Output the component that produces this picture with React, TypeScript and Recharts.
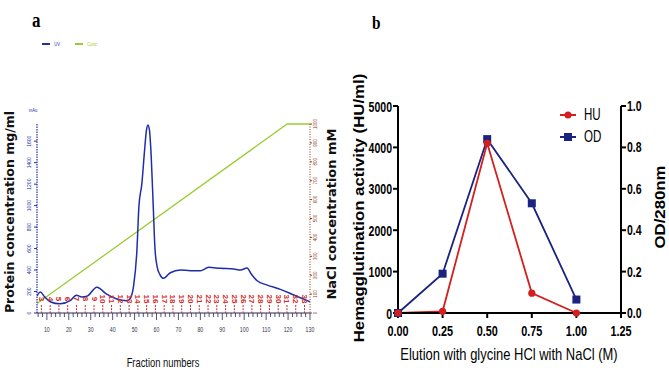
import React from "react";
import { ComposedChart, Line, Scatter, XAxis, YAxis, Legend, Label } from "recharts";

// ---------- Panel a: ion-exchange elution profile ----------
const uvFraction = [
  5.5, 7, 9, 11.5, 16, 20.6, 23.5, 26, 28.2, 32.8, 37.3, 41.9, 46.5, 48, 49.5,
  51, 52, 53.3, 54.5, 55.4, 56.1, 56.8, 57.6, 58.5, 59.3, 60.3, 61.5, 63.2,
  66.3, 70.9, 75.4, 80, 83.8, 89.1, 95.2, 98.3, 101.3, 103.2, 105.9, 110.5,
  116.5, 122.6, 130,
];
const uvMau = [
  160, 195, 150, 105, 85, 115, 165, 150, 155, 240, 175, 130, 115, 135, 245,
  560, 1000, 1200, 1500, 1700, 1750, 1700, 1450, 1000, 600, 430, 360, 323,
  375, 400, 394, 394, 425, 416, 410, 400, 420, 363, 300, 260,
  220, 168, 105,
];
const saltFraction = [5.5, 119.6, 130];
const saltMm = [50, 1000, 1000];

const fractionTubes = [
  3, 4, 5, 6, 7, 8, 9, 10, 11, 12, 13, 14, 15, 16, 17, 18, 19, 20, 21, 22, 23,
  24, 25, 26, 27, 28, 29, 30, 31, 32, 33,
];
const tubeVolume = [
  7.5, 11.5, 15.5, 19.5, 23.5, 27.5, 31.5, 35.5, 39.5, 43.5, 47.5, 51.5, 55.5,
  59.5, 63.5, 67.5, 71.5, 75.5, 79.5, 83.5, 87.5, 91.5, 95.5, 99.5, 103.5,
  107.5, 111.5, 115.5, 119.5, 123.5, 127.5,
];

const volumeTicks = Array.from({ length: 63 }, (_, i) => 6 + i * 2);
const uvTicks = [0, 200, 400, 600, 800, 1000, 1200, 1400, 1600];
const saltTicks = [0, 100, 200, 300, 400, 500, 600, 700, 800, 900, 1000];

// ---------- Panel b: affinity elution ----------
const elutionM = [0, 0.25, 0.5, 0.75, 1.0];
const huActivity = [0, 40, 4100, 480, 0];
const od280 = [0, 0.19, 0.84, 0.53, 0.065];
const elutionTicks = [0, 0.25, 0.5, 0.75, 1.0, 1.25];
const huTicks = [0, 1000, 2000, 3000, 4000, 5000];
const odTicks = [0, 0.2, 0.4, 0.6, 0.8, 1.0];

const uvRows = uvFraction.map((v, i) => ({ vol: v, uv: uvMau[i] }));
const saltRows = saltFraction.map((v, i) => ({ vol: v, salt: saltMm[i] }));
const tubeRows = fractionTubes.map((t, i) => ({ vol: tubeVolume[i], base: 0, tube: t }));
const elutionRows = elutionM.map((m, i) => ({ m, hu: huActivity[i], od: od280[i] }));

const SANS = "'Liberation Sans', Arial, sans-serif";
const WIDE = "'DejaVu Sans', Verdana, sans-serif";
const SERIF = "'Liberation Serif', 'Times New Roman', serif";

const UV_BLUE = "#1f2ea6";
const CONC_GREEN = "#9acd32";
const TUBE_RED = "#cf2b2b";
const AXIS_BROWN = "#8a3b1c";
const HU_RED = "#d41f1f";
const OD_NAVY = "#1a237e";

// narrow horizontal text
function Narrow(props: any) {
  const { x, y, children, size, weight = 400, fill = "#000", anchor = "middle", sx = 0.7, family = SANS } = props;
  return (
    <text
      transform={`translate(${x},${y}) scale(${sx},1)`}
      textAnchor={anchor}
      fontSize={size}
      fontWeight={weight}
      fill={fill}
      fontFamily={family}
    >
      {children}
    </text>
  );
}

// vertical (bottom-to-top) text, glyphs optionally flattened
function Vertical(props: any) {
  const { x, y, children, size, weight = 700, fill = "#000", sy = 1, family = SANS } = props;
  return (
    <text
      transform={`translate(${x},${y}) rotate(-90) scale(1,${sy})`}
      textAnchor="middle"
      dominantBaseline="central"
      fontSize={size}
      fontWeight={weight}
      fill={fill}
      fontFamily={family}
    >
      {children}
    </text>
  );
}

function VolumeTick(p: any) {
  const { x, y, payload } = p;
  const major = payload.value % 10 === 0;
  return (
    <g>
      <line x1={x} x2={x} y1={y} y2={y + (major ? 7 : 4)} stroke="#2a2a55" strokeWidth={0.8} />
      {major ? (
        <Narrow x={x} y={y + 19} size={7} fill="#33334a" sx={0.75}>
          {payload.value}
        </Narrow>
      ) : null}
    </g>
  );
}

function TubeMarker(p: any) {
  const { cx, cy, payload } = p;
  if (cx == null || cy == null) return null;
  return (
    <g>
      <line x1={cx} x2={cx} y1={cy - 8} y2={cy} stroke={TUBE_RED} strokeWidth={1} strokeDasharray="2 1.2" />
      <text
        transform={`translate(${cx},${cy - 14}) rotate(90)`}
        textAnchor="middle"
        dominantBaseline="central"
        fontSize={8}
        fontWeight={700}
        fontFamily={SANS}
        fill={TUBE_RED}
      >
        {payload.tube}
      </text>
    </g>
  );
}

function LegendA() {
  return (
    <div style={{ display: "flex", alignItems: "center", fontFamily: SANS, fontSize: 6 }}>
      <span style={{ display: "inline-block", width: 8, height: 1.5, background: UV_BLUE, marginRight: 3 }} />
      <span style={{ color: UV_BLUE, transform: "scaleX(0.7)", display: "inline-block" }}>UV</span>
      <span style={{ display: "inline-block", width: 8, height: 1.5, background: CONC_GREEN, marginLeft: 14, marginRight: 2 }} />
      <span style={{ color: CONC_GREEN, transform: "scaleX(0.7)", display: "inline-block" }}>Conc</span>
    </div>
  );
}

function LegendB() {
  const row = (color: string, name: string, marker: React.ReactNode) => (
    <div style={{ display: "flex", alignItems: "center", height: 22 }}>
      <svg width={18} height={12}>
        <line x1={1} x2={17} y1={6} y2={6} stroke={color} strokeWidth={2} />
        {marker}
      </svg>
      <span
        style={{
          fontFamily: SANS,
          fontSize: 17,
          color: "#000",
          marginLeft: 7,
          display: "inline-block",
          transform: "scaleX(0.68)",
          transformOrigin: "left center",
        }}
      >
        {name}
      </span>
    </div>
  );
  return (
    <div>
      {row(HU_RED, "HU", <circle cx={9} cy={6} r={3.5} fill={HU_RED} />)}
      {row(OD_NAVY, "OD", <rect x={5} y={2} width={8} height={8} fill={OD_NAVY} />)}
    </div>
  );
}

function PanelA() {
  return (
    <ComposedChart
      width={340}
      height={379}
      margin={{ top: 124, right: 18, bottom: 36, left: 17 }}
    >
      <XAxis
        dataKey="vol"
        type="number"
        domain={[5.5, 130]}
        ticks={volumeTicks}
        interval={0}
        tickLine={false}
        tickSize={0}
        tickMargin={0}
        height={30}
        axisLine={{ stroke: "#2a2a55", strokeWidth: 1 }}
        tick={<VolumeTick />}
        allowDataOverflow
      >
        <Label
          content={() => (
            <Narrow x={163} y={367} size={13} sx={0.72} fill="#111">
              Fraction numbers
            </Narrow>
          )}
        />
      </XAxis>
      <YAxis
        yAxisId="uv"
        width={20}
        domain={[0, 1760]}
        ticks={uvTicks}
        interval={0}
        tickSize={3}
        axisLine={{ stroke: UV_BLUE, strokeWidth: 1.2, strokeDasharray: "1.5 1" }}
        tickLine={{ stroke: UV_BLUE }}
        tick={(p: any) => (
          <Vertical x={p.x - 3} y={p.y} size={5} weight={400} fill={UV_BLUE}>
            {p.payload.value}
          </Vertical>
        )}
      >
        <Label
          content={() => (
            <g>
              <Narrow x={33} y={112} size={6} fill={UV_BLUE} sx={0.7}>
                mAu
              </Narrow>
              <Vertical x={9} y={212} size={12.5} family={WIDE} fill="#111">
                Protein concentration mg/ml
              </Vertical>
            </g>
          )}
        />
      </YAxis>
      <YAxis
        yAxisId="salt"
        orientation="right"
        width={12}
        domain={[0, 1000]}
        ticks={saltTicks}
        interval={0}
        tickSize={2}
        axisLine={{ stroke: AXIS_BROWN, strokeWidth: 1, strokeDasharray: "1 1.5" }}
        tickLine={{ stroke: AXIS_BROWN }}
        tick={(p: any) => (
          <Vertical x={p.x + 1} y={p.y} size={4.5} weight={400} fill={AXIS_BROWN}>
            {p.payload.value}
          </Vertical>
        )}
      >
        <Label
          content={() => (
            <Vertical x={331} y={214} size={13} family={WIDE} fill="#111">
              NaCl concentration mM
            </Vertical>
          )}
        />
      </YAxis>
      <Legend
        layout="horizontal"
        verticalAlign="middle"
        align="center"
        content={() => <LegendA />}
        wrapperStyle={{ position: "absolute", top: 41, left: 42, width: "auto" }}
      />
      <Line
        yAxisId="salt"
        data={saltRows}
        dataKey="salt"
        name="Conc"
        type="linear"
        stroke={CONC_GREEN}
        strokeWidth={1.3}
        dot={false}
        isAnimationActive={false}
      />
      <Line
        yAxisId="uv"
        data={uvRows}
        dataKey="uv"
        name="UV"
        type="monotone"
        stroke={UV_BLUE}
        strokeWidth={1.5}
        dot={false}
        isAnimationActive={false}
      />
      <Scatter
        yAxisId="uv"
        data={tubeRows}
        dataKey="base"
        shape={<TubeMarker />}
        isAnimationActive={false}
      />
    </ComposedChart>
  );
}

function PanelB() {
  const axisStyle = { stroke: "#000", strokeWidth: 2 };
  return (
    <ComposedChart
      width={339}
      height={379}
      data={elutionRows}
      margin={{ top: 106, right: 18, bottom: 36, left: 28 }}
    >
      <XAxis
        dataKey="m"
        type="number"
        domain={[0, 1.25]}
        ticks={elutionTicks}
        interval={0}
        tickSize={5}
        tickMargin={2}
        height={30}
        axisLine={axisStyle}
        tickLine={axisStyle}
        tick={(p: any) => (
          <Narrow x={p.x} y={p.y + 16} size={15.5} weight={700} sx={0.7}>
            {Number(p.payload.value).toFixed(2)}
          </Narrow>
        )}
      >
        <Label
          content={() => (
            <Narrow x={179} y={360} size={16} sx={0.81}>
              Elution with glycine HCl with NaCl (M)
            </Narrow>
          )}
        />
      </XAxis>
      <YAxis
        yAxisId="hu"
        width={40}
        domain={[0, 5000]}
        ticks={huTicks}
        interval={0}
        tickSize={5}
        tickMargin={2}
        axisLine={axisStyle}
        tickLine={axisStyle}
        tick={(p: any) => (
          <Narrow x={p.x + 1} y={p.y + 5.5} size={15.5} weight={700} sx={0.68} anchor="end">
            {p.payload.value}
          </Narrow>
        )}
      >
        <Label
          content={() => (
            <Vertical x={29} y={208} size={16.8} sy={0.85}>
              Hemagglutination activity (HU/ml)
            </Vertical>
          )}
        />
      </YAxis>
      <YAxis
        yAxisId="od"
        orientation="right"
        width={30}
        domain={[0, 1]}
        ticks={odTicks}
        interval={0}
        tickSize={5}
        tickMargin={1}
        axisLine={axisStyle}
        tickLine={axisStyle}
        tick={(p: any) => (
          <Narrow x={p.x} y={p.y + 5} size={15} weight={700} sx={0.7} anchor="start">
            {Number(p.payload.value).toFixed(1)}
          </Narrow>
        )}
      >
        <Label
          content={() => (
            <Vertical x={330} y={207} size={16.8} sy={0.85}>
              OD/280nm
            </Vertical>
          )}
        />
      </YAxis>
      <Legend
        layout="horizontal"
        verticalAlign="middle"
        align="center"
        content={() => <LegendB />}
        wrapperStyle={{ position: "absolute", top: 104, left: 229, width: "auto" }}
      />
      <Line
        yAxisId="od"
        dataKey="od"
        name="OD"
        type="linear"
        stroke={OD_NAVY}
        strokeWidth={1.8}
        dot={(p: any) => (
          <rect key={`od-${p.index}`} x={p.cx - 4} y={p.cy - 4} width={8} height={8} fill={OD_NAVY} />
        )}
        isAnimationActive={false}
      />
      <Line
        yAxisId="hu"
        dataKey="hu"
        name="HU"
        type="linear"
        stroke={HU_RED}
        strokeWidth={1.8}
        dot={(p: any) => <circle key={`hu-${p.index}`} cx={p.cx} cy={p.cy} r={3.6} fill={HU_RED} />}
        isAnimationActive={false}
      />
    </ComposedChart>
  );
}

export default function App() {
  return (
    <div style={{ position: "fixed", left: 0, top: 0, width: 669, height: 379, background: "#fff" }}>
      <div
        style={{
          position: "absolute",
          left: 32,
          top: 9,
          fontFamily: SERIF,
          fontWeight: 700,
          fontSize: 20,
          transform: "scaleX(0.85)",
          transformOrigin: "left top",
        }}
      >
        a
      </div>
      <div
        style={{
          position: "absolute",
          left: 372,
          top: 13,
          fontFamily: SERIF,
          fontWeight: 700,
          fontSize: 18,
          transform: "scaleX(0.85)",
          transformOrigin: "left top",
        }}
      >
        b
      </div>
      <div style={{ position: "absolute", left: 0, top: 0 }}>
        <PanelA />
      </div>
      <div style={{ position: "absolute", left: 330, top: 0 }}>
        <PanelB />
      </div>
    </div>
  );
}
